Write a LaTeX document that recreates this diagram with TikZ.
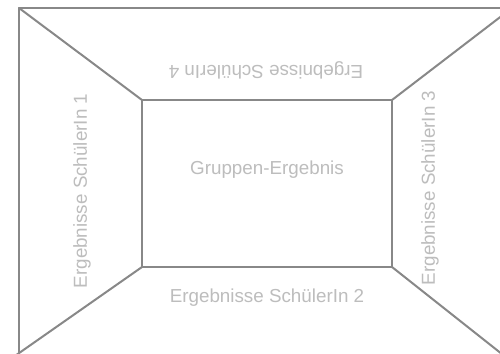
\documentclass[tikz,border=0pt]{standalone}
\usepackage{fontspec}
\setmainfont{Liberation Sans}
\definecolor{linegray}{HTML}{888888}
\definecolor{textgray}{HTML}{BDBDBD}
\begin{document}
\begin{tikzpicture}[x=1pt,y=-1pt,
  wall/.style={draw=linegray,line width=2pt,line cap=round,line join=round},
  lbl/.style={text=textgray,font=\fontsize{18.8}{22}\selectfont,inner sep=0pt}]
\useasboundingbox (0,0) rectangle (500,353);
\clip (0,0) rectangle (500,353);
\fill[white] (0,0) rectangle (500,353);
% outer corners
\coordinate (otl) at (19,8);
\coordinate (otr) at (512,8);
\coordinate (obl) at (19,362);
\coordinate (bla) at (12,358);
\coordinate (obr) at (512,362);
% inner corners
\coordinate (itl) at (142,100);
\coordinate (itr) at (392,100);
\coordinate (ibl) at (142,267);
\coordinate (ibr) at (392,267);
% frame
\draw[wall] (obl) -- (otl) -- (otr);
\draw[wall] (itl) rectangle (ibr);
\draw[wall] (otl) -- (itl);
\draw[wall] (otr) -- (itr);
\draw[wall] (ibl) -- (bla);
\draw[wall] (ibr) -- (obr);
% labels
\node[lbl] (center) at (267,170) {Gruppen-Ergebnis};
\node[lbl,rotate=180] (top) at (266,70) {Ergebnisse SchülerIn 4};
\node[lbl] (bottom) at (267,298) {Ergebnisse SchülerIn 2};
\node[lbl,rotate=90] (left) at (82,191) {Ergebnisse SchülerIn 1};
\node[lbl,rotate=90] (right) at (430,188) {Ergebnisse SchülerIn 3};
\end{tikzpicture}
\end{document}
